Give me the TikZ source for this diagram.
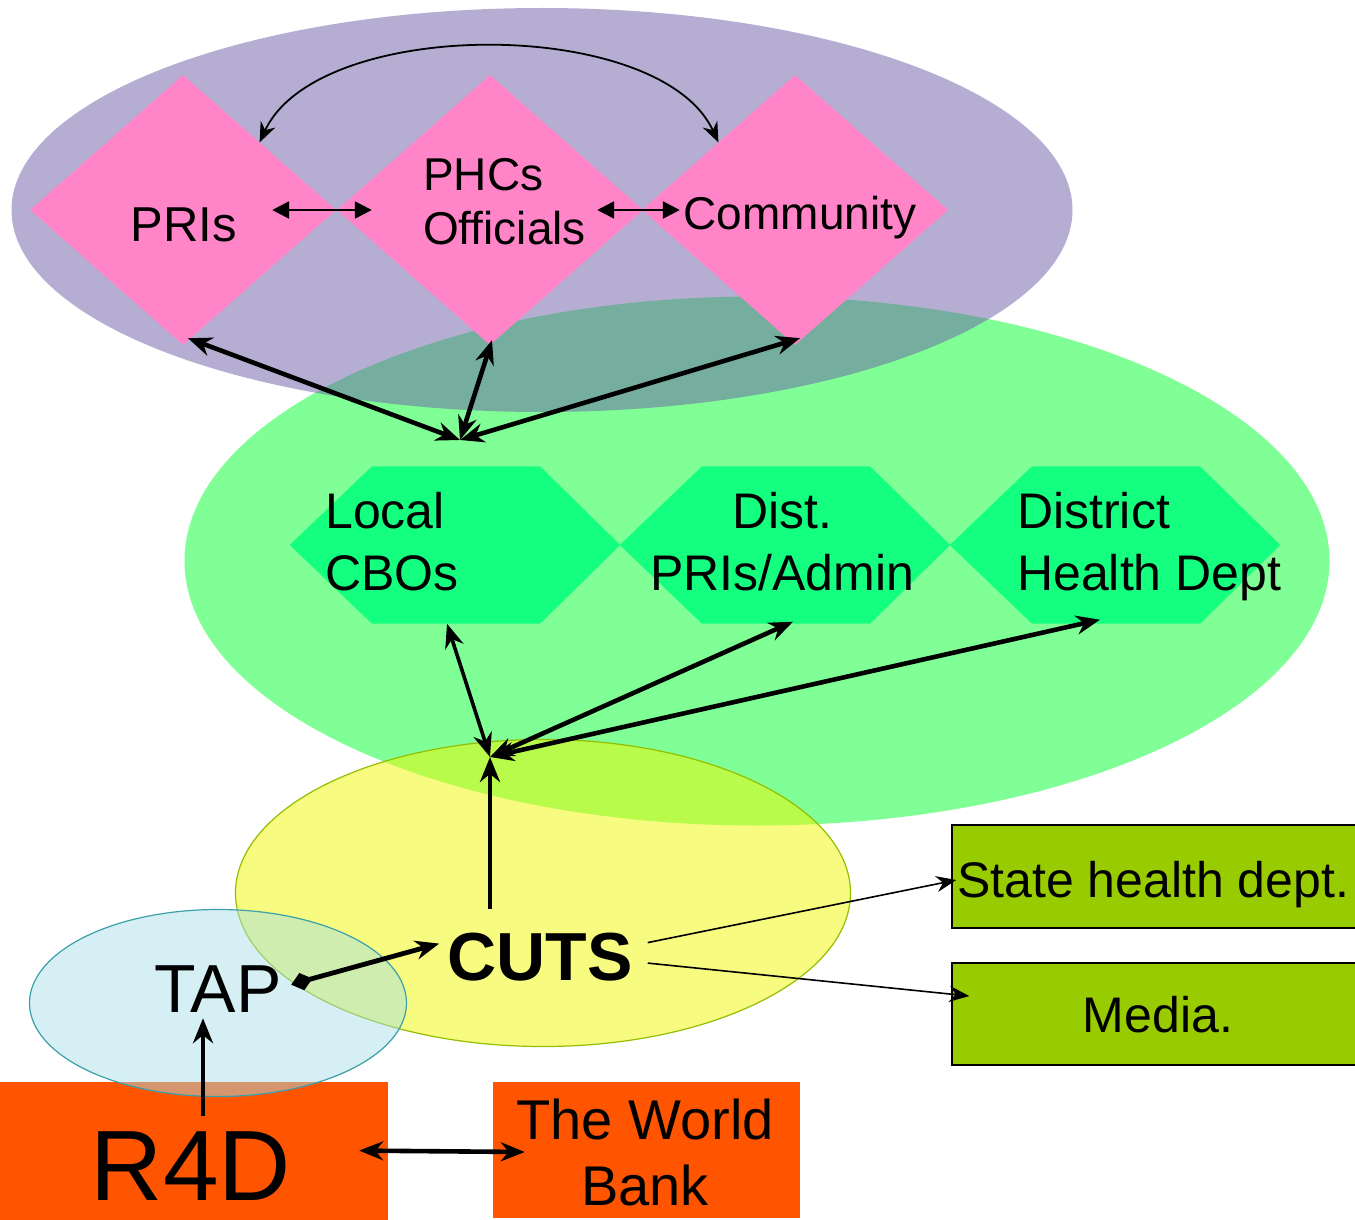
\documentclass[tikz,border=0pt]{standalone}
\usepackage{fontspec}
\setmainfont{Liberation Sans}
\usetikzlibrary{shapes.geometric,arrows.meta,calc}
\definecolor{purpleC}{RGB}{108,94,166}
\definecolor{greenC}{RGB}{128,255,150}
\definecolor{pinkC}{RGB}{255,133,200}
\definecolor{hexC}{RGB}{20,255,128}
\definecolor{yellowC}{RGB}{240,248,0}
\definecolor{yellowB}{RGB}{150,190,0}
\definecolor{tapC}{RGB}{166,223,232}
\definecolor{tapB}{RGB}{60,160,170}
\definecolor{orangeC}{RGB}{255,85,0}
\definecolor{oliveC}{RGB}{153,204,0}
\begin{document}
\begin{tikzpicture}[x=1pt,y=-1pt,
  lbl/.style={inner sep=0pt, text=black},
  fsA/.style={font=\fontsize{46}{54}\selectfont},
  fsB/.style={font=\fontsize{50}{62}\selectfont},
  dia/.style={shape=diamond, fill=pinkC, minimum width=306pt, minimum height=270pt, inner sep=0pt},
  hexbox/.style={rectangle, minimum width=330pt, minimum height=157pt, inner sep=0pt},
  blob/.style={ellipse, inner sep=0pt},
  gbox/.style={rectangle, fill=oliveC, draw=black, line width=1.5pt, inner sep=0pt},
  obox/.style={rectangle, fill=orangeC, inner sep=0pt},
  twoway/.style={line width=4.6pt, {Stealth[length=24pt,width=19pt]}-{Stealth[length=24pt,width=19pt]}},
  oneway/.style={line width=4.8pt, -{Stealth[length=25pt,width=20pt]}},
  midway2/.style={line width=2.4pt, {Triangle[length=17pt,width=17pt]}-{Triangle[length=17pt,width=17pt]}},
  thinway/.style={line width=1.8pt, {Stealth[length=20pt,width=16pt]}-{Stealth[length=20pt,width=16pt]}},
  thinone/.style={line width=1.6pt, -{Stealth[length=20pt,width=16pt]}}
]
\useasboundingbox (0,0) rectangle (1355,1220);
\fill[white] (0,0) rectangle (1355,1220);

% big ellipses
\node[blob, fill=greenC, minimum width=1145pt, minimum height=529pt] (gell) at (757,561) {};
\node[blob, fill=purpleC, fill opacity=0.5, minimum width=1061pt, minimum height=404pt] (pell) at (542,210) {};

% diamonds
\node[dia] (d1) at (183,210) {};
\node[dia] (d2) at (490,210) {};
\node[dia] (d3) at (795,210) {};

% hexagons
\node[hexbox] (h1) at (455,545) {};
\node[hexbox] (h2) at (785,545) {};
\node[hexbox] (h3) at (1115,545) {};
\foreach \h in {h1,h2,h3}{
  \fill[hexC] (\h.west) -- ($(\h.north)+(-83,0)$) -- ($(\h.north)+(85,0)$) -- (\h.east)
    -- ($(\h.south)+(85,0)$) -- ($(\h.south)+(-83,0)$) -- cycle;
}

% yellow ellipse
\node[blob, fill=yellowC, fill opacity=0.5, draw=yellowB, line width=1.2pt, minimum width=615pt, minimum height=307pt] (yell) at (543,893) {};

% orange boxes
\node[obox, minimum width=388pt, minimum height=140pt] (r4dbox) at (194,1152) {};
\node[obox, minimum width=307pt, minimum height=136pt] (wbbox) at (646.5,1150) {};

% TAP ellipse
\node[blob, fill=tapC, fill opacity=0.47, draw=tapB, line width=1.2pt, minimum width=377pt, minimum height=187pt] (tell) at (218,1003) {};

% green boxes
\node[gbox, minimum width=420pt, minimum height=103pt] (sbox) at (1162,876.5) {};
\node[gbox, minimum width=420pt, minimum height=102pt] (mbox) at (1162,1014) {};

% labels
\node[lbl, font=\fontsize{49}{54}\selectfont, anchor=base] (pri) at (184,241) {PRIs};
\node[lbl, fsA, anchor=north west, align=left] (phc) at (423,158) {PHCs\\Officials};
\node[lbl, fsA, anchor=base] (com) at (800,229) {Community};
\node[lbl, fsB, anchor=north west, align=left] (cbo) at (325,492) {Local\\CBOs};
\node[lbl, fsB, anchor=north, align=center] (dpa) at (782,492) {Dist.\\PRIs/Admin};
\node[lbl, fsB, anchor=north west, align=left] (dhd) at (1017,492) {District\\Health Dept};
\node[lbl, font=\fontsize{68}{70}\bfseries\selectfont, anchor=base] (cuts) at (540,980) {CUTS};
\node[lbl, font=\fontsize{68}{70}\selectfont, anchor=base] (tap) at (218,1012) {TAP};
\node[lbl, font=\fontsize{100}{100}\selectfont, anchor=base] (r4d) at (191,1200) {R4D};
\node[lbl, font=\fontsize{56}{66}\selectfont, anchor=north, align=center] (wb) at (645,1099) {The World\\Bank};
\node[lbl, fsB, anchor=base west] (shd) at (957,897) {State health dept.};
\node[lbl, fsB, anchor=base] (med) at (1158,1032) {Media.};

% hubs
\coordinate (hubA) at (460,440);
\coordinate (hubB) at (490,757);

% top arc and horizontal links
\draw[thinway] (d1.north east) .. controls (318,16) and (660,16) .. (d3.north west);
\draw[midway2] ($(d1.east)+(-64,0)$) -- ($(d2.west)+(35,0)$);
\draw[midway2] ($(d2.east)+(-46,0)$) -- ($(d3.west)+(38,0)$);

% diamonds to hub
\draw[twoway] (hubA) -- ($(d1.south)+(5,-7)$);
\draw[twoway] (hubA) -- ($(d2.south)+(2,-5)$);
\draw[twoway] (hubA) -- ($(d3.south)+(5,-7)$);

% hexagons to hub
\draw[twoway, line width=3.6pt] (hubB) -- ($(h1.south)+(-8,0)$);
\draw[twoway] (hubB) -- ($(h2.south)+(8,-2)$);
\draw[twoway] (hubB) -- ($(h3.south)+(-15,-4)$);
\draw[oneway] ($(hubB |- cuts.north)+(0,-23)$) -- (hubB);

% lower links
\coordinate (tapEnd) at ($(tap.east)+(16,-6)$);
\draw[line width=4.8pt, -{Stealth[length=24pt,width=19pt]}] (tapEnd) -- ($(cuts.west)+(-8,-13)$);
\fill[black] ($(tapEnd)+(-6.6,2.1)$) -- ($(tapEnd)+(1.5,-9.6)$) -- ($(tapEnd)+(14.6,-4.1)$) -- ($(tapEnd)+(6.5,7.6)$) -- cycle;
\draw[oneway] ($(r4d.north)+(12,-15)$) -- ($(tap.south)+(-15,6)$);
\draw[twoway] ($(r4d.east)+(68,-15)$) -- ($(wbbox.west)+(32,2)$);
\draw[thinone] ($(cuts.east)+(15,-14)$) -- ($(sbox.west)+(5,3.5)$);
\draw[thinone] ($(cuts.east)+(15,6.5)$) -- ($(mbox.west)+(18,-18)$);
\end{tikzpicture}
\end{document}
